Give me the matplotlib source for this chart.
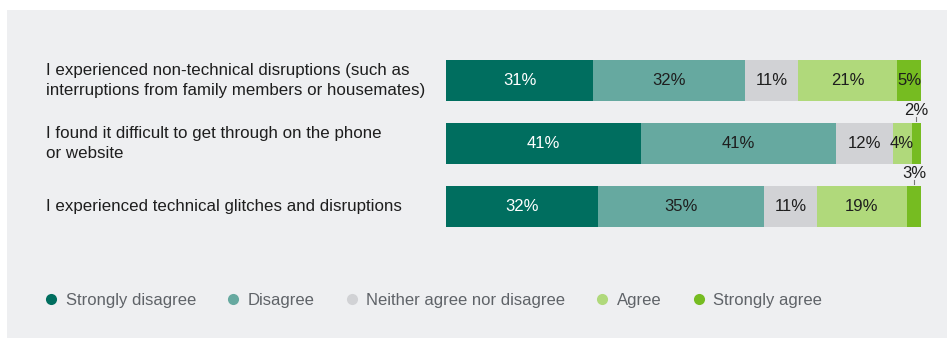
import matplotlib
matplotlib.use('Agg')
import matplotlib.pyplot as plt
from matplotlib.patches import Rectangle
from matplotlib.lines import Line2D
from matplotlib.transforms import blended_transform_factory

plt.rcParams['font.family'] = ['Liberation Sans', 'DejaVu Sans']

questions = [
    'I experienced non-technical disruptions (such as\ninterruptions from family members or housemates)',
    'I found it difficult to get through on the phone\nor website',
    'I experienced technical glitches and disruptions',
]
responses = ['Strongly disagree', 'Disagree', 'Neither agree nor disagree', 'Agree', 'Strongly agree']
strongly_disagree = [31, 41, 32]
disagree = [32, 41, 35]
neither = [11, 12, 11]
agree = [21, 4, 19]
strongly_agree = [5, 2, 3]

colors = ['#006e5f', '#66a9a0', '#d1d2d5', '#b0d97b', '#76bc21']
text_colors = ['white', '#1e1e1e', '#1e1e1e', '#1e1e1e', '#1e1e1e']
series = [strongly_disagree, disagree, neither, agree, strongly_agree]

W, H = 947, 338
fig = plt.figure(figsize=(W / 100, H / 100), dpi=100)
fig.patch.set_facecolor('white')
fig.patches.append(Rectangle((7 / W, 0), 1 - 7 / W, 1 - 10 / H,
                             transform=fig.transFigure, facecolor='#eeeff1',
                             edgecolor='none', zorder=-10))

ax = fig.add_axes([446 / W, 1 - 238 / H, 475 / W, 189 / H])
ax.set_facecolor('none')
ax.set_xlim(0, 100)
ax.set_ylim(2.5, -0.5)
ax.axis('off')

ypos = list(range(len(questions)))
left = [0] * len(questions)
for vals, col, tcol in zip(series, colors, text_colors):
    ax.barh(ypos, vals, left=left, height=41 / 63, color=col, edgecolor='none')
    for i, v in enumerate(vals):
        mid = left[i] + v / 2
        if v >= 4:
            ax.text(mid, i, f'{v}%', ha='center', va='center', color=tcol, fontsize=12)
        else:
            # small segment: label above the bar with a short leader tick
            ax.text(mid, i - 0.45, f'{v}%', ha='center', va='baseline', color='#1e1e1e', fontsize=12)
            ax.plot([mid, mid], [i - 0.425, i - 0.36], color='#777777', lw=0.8)
        left[i] += v

tr = blended_transform_factory(fig.transFigure, ax.transData)
for i, q in enumerate(questions):
    ax.text(46 / W, i, q, transform=tr, ha='left', va='center', fontsize=12.2,
            color='#1e1e1e', linespacing=1.45)

handles = [Line2D([], [], marker='o', linestyle='none', markersize=8,
                  markerfacecolor=c, markeredgecolor='none') for c in colors]
leg = fig.legend(handles, responses, loc='center left', bbox_to_anchor=(38 / W, 1 - 300 / H),
                 ncol=5, frameon=False, fontsize=12, handlelength=0.8, handletextpad=0.45,
                 columnspacing=1.85, borderaxespad=0)
for t in leg.get_texts():
    t.set_color('#5f6368')

fig.savefig('out.png', dpi=100)
